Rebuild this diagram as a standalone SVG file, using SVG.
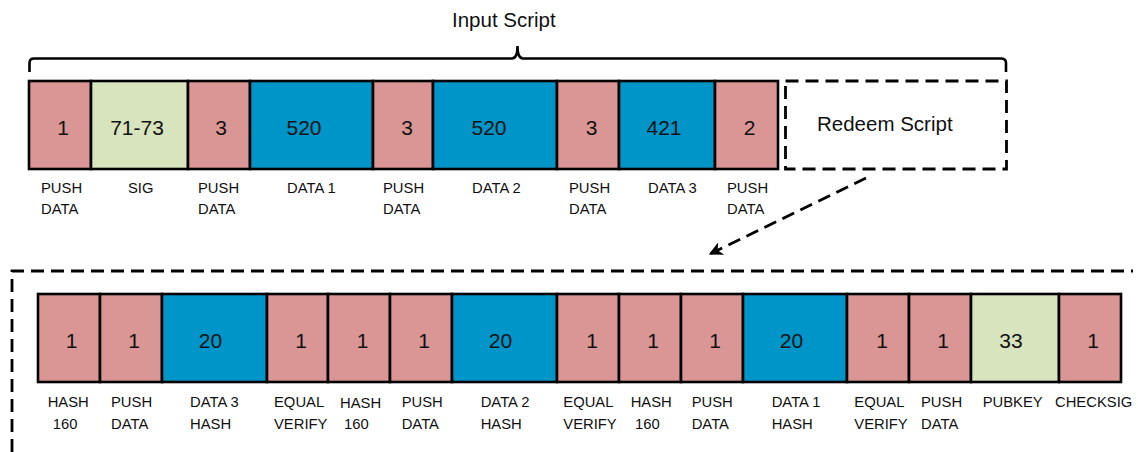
<svg xmlns="http://www.w3.org/2000/svg" width="1138" height="452" viewBox="0 0 1138 452">
<style>
.p{fill:#D99694;stroke:#000;stroke-width:2.6}
.g{fill:#D7E4BD;stroke:#000;stroke-width:2.6}
.b{fill:#0095C8;stroke:#000;stroke-width:2.6}
.n{font-family:"Liberation Sans",Arial,sans-serif;font-size:21px;fill:#111;text-anchor:middle}
.l{font-family:"Liberation Sans",Arial,sans-serif;font-size:14.8px;fill:#111}
.t{font-family:"Liberation Sans",Arial,sans-serif;font-size:20.5px;fill:#111}
.d{fill:none;stroke:#000;stroke-width:2.8;stroke-dasharray:13 7}
</style>
<defs>
<marker id="ah" viewBox="0 0 10 10" refX="9" refY="5" markerWidth="5" markerHeight="5" orient="auto" markerUnits="strokeWidth">
<path d="M0,0 L10,5 L0,10 L3,5 Z" fill="#000"/>
</marker>
</defs>
<rect width="1138" height="452" fill="#fff"/>

<g id="brace">
<path d="M29.5,72 V63 Q29.5,58.5 34,58.5 H512 Q517.5,58.5 517.5,46 Q517.5,58.5 523,58.5 H1001 Q1006,58.5 1006,63 V72" fill="none" stroke="#000" stroke-width="2.6"/>
<text class="t" x="452" y="27">Input Script</text>
</g>

<g id="in1"><rect class="p" x="29" y="81" width="62" height="88"/><text class="n" x="63" y="135">1</text><text class="l" x="41" y="193">PUSH</text><text class="l" x="41" y="214">DATA</text></g>
<g id="in2"><rect class="g" x="91" y="81" width="97" height="88"/><text class="n" x="137" y="135">71-73</text><text class="l" x="128" y="193">SIG</text></g>
<g id="in3"><rect class="p" x="188" y="81" width="62" height="88"/><text class="n" x="221" y="135">3</text><text class="l" x="198" y="193">PUSH</text><text class="l" x="198" y="214">DATA</text></g>
<g id="in4"><rect class="b" x="250" y="81" width="123" height="88"/><text class="n" x="304" y="135">520</text><text class="l" x="287" y="193">DATA 1</text></g>
<g id="in5"><rect class="p" x="373" y="81" width="60" height="88"/><text class="n" x="407" y="135">3</text><text class="l" x="383" y="193">PUSH</text><text class="l" x="383" y="214">DATA</text></g>
<g id="in6"><rect class="b" x="433" y="81" width="124" height="88"/><text class="n" x="489" y="135">520</text><text class="l" x="472" y="193">DATA 2</text></g>
<g id="in7"><rect class="p" x="557" y="81" width="62" height="88"/><text class="n" x="591.5" y="135">3</text><text class="l" x="569" y="193">PUSH</text><text class="l" x="569" y="214">DATA</text></g>
<g id="in8"><rect class="b" x="619" y="81" width="96" height="88"/><text class="n" x="664" y="135">421</text><text class="l" x="648" y="193">DATA 3</text></g>
<g id="in9"><rect class="p" x="715" y="81" width="63" height="88"/><text class="n" x="749.5" y="135">2</text><text class="l" x="727" y="193">PUSH</text><text class="l" x="727" y="214">DATA</text></g>

<g id="redeem"><rect class="d" x="785.5" y="81" width="221" height="88"/><text class="t" x="817" y="130.5">Redeem Script</text></g>

<g id="connectors">
<path class="d" d="M866,178 L710,254" stroke-dasharray="11 7" marker-end="url(#ah)"/>
</g>

<g id="redeemExpanded">
<path class="d" d="M12,452 V271 H1133"/>
</g>

<g id="r1"><rect class="p" x="38" y="294" width="62" height="88"/><text class="n" x="71.7" y="348">1</text><text class="l" x="47.7" y="407">HASH</text><text class="l" x="52.7" y="429">160</text></g>
<g id="r2"><rect class="p" x="100" y="294" width="62" height="88"/><text class="n" x="134" y="348">1</text><text class="l" x="111" y="407">PUSH</text><text class="l" x="111" y="429">DATA</text></g>
<g id="r3"><rect class="b" x="162" y="294" width="105" height="88"/><text class="n" x="210.5" y="348">20</text><text class="l" x="190" y="407">DATA 3</text><text class="l" x="190" y="429">HASH</text></g>
<g id="r4"><rect class="p" x="267" y="294" width="61" height="88"/><text class="n" x="301" y="348">1</text><text class="l" x="274" y="407">EQUAL</text><text class="l" x="274" y="429">VERIFY</text></g>
<g id="r5"><rect class="p" x="328" y="294" width="62" height="88"/><text class="n" x="362.5" y="348">1</text><text class="l" x="340" y="408">HASH</text><text class="l" x="344" y="429">160</text></g>
<g id="r6"><rect class="p" x="390" y="294" width="62" height="88"/><text class="n" x="424" y="348">1</text><text class="l" x="401.7" y="407">PUSH</text><text class="l" x="401.7" y="429">DATA</text></g>
<g id="r7"><rect class="b" x="452" y="294" width="105" height="88"/><text class="n" x="500.5" y="348">20</text><text class="l" x="480.7" y="407">DATA 2</text><text class="l" x="480.7" y="429">HASH</text></g>
<g id="r8"><rect class="p" x="557" y="294" width="62" height="88"/><text class="n" x="592" y="348">1</text><text class="l" x="563.3" y="407">EQUAL</text><text class="l" x="563.3" y="429">VERIFY</text></g>
<g id="r9"><rect class="p" x="619" y="294" width="62" height="88"/><text class="n" x="653" y="348">1</text><text class="l" x="630.7" y="407">HASH</text><text class="l" x="635" y="429">160</text></g>
<g id="r10"><rect class="p" x="681" y="294" width="62" height="88"/><text class="n" x="715" y="348">1</text><text class="l" x="691.7" y="407">PUSH</text><text class="l" x="691.7" y="429">DATA</text></g>
<g id="r11"><rect class="b" x="743" y="294" width="104" height="88"/><text class="n" x="791.5" y="348">20</text><text class="l" x="771.7" y="407">DATA 1</text><text class="l" x="771.7" y="429">HASH</text></g>
<g id="r12"><rect class="p" x="847" y="294" width="62" height="88"/><text class="n" x="882" y="348">1</text><text class="l" x="854.3" y="407">EQUAL</text><text class="l" x="854.3" y="429">VERIFY</text></g>
<g id="r13"><rect class="p" x="909" y="294" width="62" height="88"/><text class="n" x="943" y="348">1</text><text class="l" x="921" y="407">PUSH</text><text class="l" x="921" y="429">DATA</text></g>
<g id="r14"><rect class="g" x="971" y="294" width="88" height="88"/><text class="n" x="1011" y="348">33</text><text class="l" x="982.7" y="407">PUBKEY</text></g>
<g id="r15"><rect class="p" x="1059" y="294" width="62" height="88"/><text class="n" x="1093" y="348">1</text><text class="l" x="1055" y="407">CHECKSIG</text></g>
</svg>
